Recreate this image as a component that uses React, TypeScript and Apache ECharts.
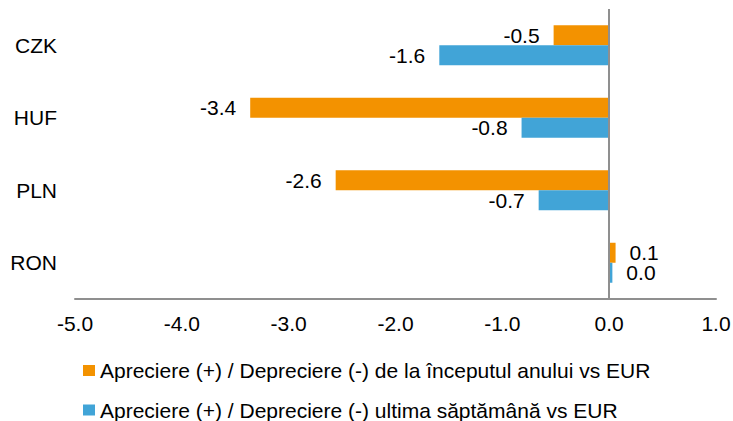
import React, { useEffect, useRef } from "react";
import * as echarts from "echarts";

const categories = ["CZK", "HUF", "PLN", "RON"];
const seriesNames = [
  "Apreciere (+) / Depreciere (-) de la începutul anului vs EUR",
  "Apreciere (+) / Depreciere (-) ultima săptămână vs EUR",
];
const ytdValues = [-0.52, -3.36, -2.56, 0.06];
const weekValues = [-1.59, -0.82, -0.66, 0.03];
const xTicks = { min: -5, max: 1, interval: 1 };

const FONT = "'Liberation Sans', Arial, sans-serif";
const FS = 21;
const ORANGE = "#F39200";
const BLUE = "#41A4D7";
const AXIS_GREY = "#8f8f8f";

const labelFor = (v: number) => ({
  show: true,
  position: v < 0 ? "left" : "right",
  distance: 14,
  color: "#000",
  fontSize: FS,
  lineHeight: 19,
  fontFamily: FONT,
  formatter: (p: any) => Number(p.value).toFixed(1),
});

const legendItem = (name: string, top: number) => ({
  orient: "vertical",
  left: 83,
  top,
  padding: 0,
  itemWidth: 12,
  itemHeight: 11,
  icon: "rect",
  textStyle: { fontSize: FS, fontFamily: FONT, color: "#000", lineHeight: 21 },
  data: [name],
});

export default function App() {
  const ref = useRef<HTMLDivElement>(null);
  useEffect(() => {
    if (!ref.current) return;
    const chart = echarts.init(ref.current, null, { renderer: "svg" });
    chart.setOption({
      animation: false,
      textStyle: { fontFamily: FONT },
      grid: { left: 75, right: 17, top: 9, bottom: 122, outerBoundsMode: "none" },
      legend: [legendItem(seriesNames[0], 360), legendItem(seriesNames[1], 399.5)],
      xAxis: {
        type: "value",
        min: xTicks.min,
        max: xTicks.max,
        interval: xTicks.interval,
        axisLine: { show: true, onZero: false, lineStyle: { color: AXIS_GREY, width: 2 } },
        axisTick: { show: false },
        splitLine: { show: false },
        axisLabel: {
          margin: 14,
          fontSize: FS,
          color: "#000",
          fontFamily: FONT,
          formatter: (v: number) => v.toFixed(1),
        },
      },
      yAxis: {
        type: "category",
        inverse: true,
        data: categories,
        axisLine: { show: false },
        axisTick: { show: false },
        axisLabel: { margin: 18, fontSize: FS, color: "#000", fontFamily: FONT },
      },
      series: [
        {
          name: seriesNames[0],
          type: "bar",
          barWidth: 20,
          barGap: "0%",
          itemStyle: { color: ORANGE },
          data: ytdValues.map((v) => ({ value: v, label: labelFor(v) })),
          markLine: {
            silent: true,
            symbol: "none",
            label: { show: false },
            lineStyle: { color: AXIS_GREY, width: 2, type: "solid" },
            data: [{ xAxis: 0 }],
            z: 10,
          },
        },
        {
          name: seriesNames[1],
          type: "bar",
          barWidth: 20,
          barGap: "0%",
          itemStyle: { color: BLUE },
          data: weekValues.map((v) => ({ value: v, label: labelFor(v) })),
        },
      ],
    });
    return () => chart.dispose();
  }, []);
  return (
    <div
      ref={ref}
      style={{ position: "fixed", left: 0, top: 0, width: 733, height: 421, background: "#fff" }}
    />
  );
}
